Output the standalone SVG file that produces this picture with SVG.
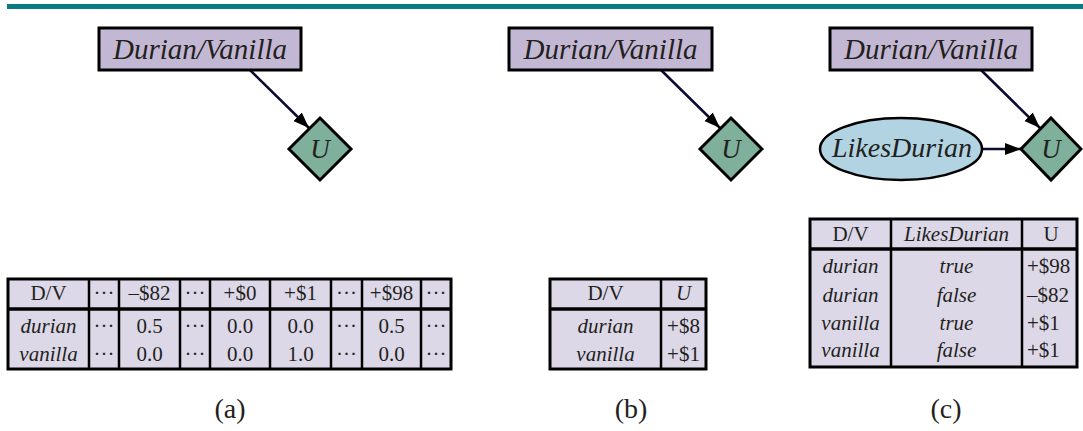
<svg xmlns="http://www.w3.org/2000/svg" width="1083" height="431" viewBox="0 0 1083 431">
<style>
text{font-family:'Liberation Serif','Tinos','Times New Roman','DejaVu Serif',serif;fill:#231f20}
.it{font-style:italic}
.nm{font-size:29px;font-style:italic;text-anchor:middle}
.u{font-size:27px;font-style:italic;text-anchor:middle}
.t{font-size:21px;text-anchor:middle}
.tl{font-size:21px}
.cap{font-size:28px;text-anchor:middle}
.box{fill:#c3b8d4;stroke:#000;stroke-width:3}
.dia{fill:#7fb09b;stroke:#000;stroke-width:3}
.ell{fill:#b2d3e2;stroke:#000;stroke-width:2.5}
.tbl{fill:#dcd8e8;stroke:#000;stroke-width:3}
.cl{stroke:#000;stroke-width:2.5}
.hs{stroke:#000;stroke-width:3.5}
.edge{stroke:#0a0a33;stroke-width:2.5;fill:none;marker-end:url(#ah)}
</style>
<defs>
<marker id="ah" markerUnits="userSpaceOnUse" markerWidth="18" markerHeight="14" refX="16" refY="7" orient="auto">
<path d="M0,1 L16,7 L0,13 Z" fill="#000"/>
</marker>
</defs>
<rect x="7" y="4" width="1076" height="5" fill="#0a7b83"/>

<g id="connectors">
<line class="edge" x1="250" y1="70" x2="309" y2="128"/>
<line class="edge" x1="661" y1="70" x2="720" y2="128"/>
<line class="edge" x1="981" y1="70" x2="1040" y2="128"/>
<line class="edge" x1="982" y1="149" x2="1021" y2="149"/>
</g>

<g font-family="Liberation Serif, DejaVu Serif, serif">
<g id="a-dv">
<rect class="box" x="99" y="28" width="202" height="42"/>
<text class="nm" x="200" y="59">Durian/Vanilla</text>
</g>
<g id="a-u">
<polygon class="dia" points="320,118 351,149 320,180 289,149"/>
<text class="u" x="320" y="158">U</text>
</g>

<g id="b-dv">
<rect class="box" x="509" y="28" width="203" height="42"/>
<text class="nm" x="610.5" y="59">Durian/Vanilla</text>
</g>
<g id="b-u">
<polygon class="dia" points="731,118 762,149 731,180 700,149"/>
<text class="u" x="731" y="158">U</text>
</g>

<g id="c-dv">
<rect class="box" x="830" y="28" width="202" height="42"/>
<text class="nm" x="931" y="59">Durian/Vanilla</text>
</g>
<g id="c-likes">
<ellipse class="ell" cx="901" cy="149" rx="81" ry="31"/>
<text class="nm" x="902" y="157" style="font-size:28px">LikesDurian</text>
</g>
<g id="c-u">
<polygon class="dia" points="1051,118 1081,149 1051,180 1021,149"/>
<text class="u" x="1051" y="158">U</text>
</g>

<g id="table-a">
<rect class="tbl" x="8" y="279" width="443" height="90"/>
<line class="hs" x1="8" y1="309" x2="451" y2="309"/>
<line class="cl" x1="89" y1="279" x2="89" y2="369"/>
<line class="cl" x1="119" y1="279" x2="119" y2="369"/>
<line class="cl" x1="180" y1="279" x2="180" y2="369"/>
<line class="cl" x1="210" y1="279" x2="210" y2="369"/>
<line class="cl" x1="270" y1="279" x2="270" y2="369"/>
<line class="cl" x1="331" y1="279" x2="331" y2="369"/>
<line class="cl" x1="362" y1="279" x2="362" y2="369"/>
<line class="cl" x1="421" y1="279" x2="421" y2="369"/>
<text class="t" x="48.5" y="300">D/V</text>
<text class="t" x="104" y="300">···</text>
<text class="t" x="149.5" y="300">–$82</text>
<text class="t" x="195" y="300">···</text>
<text class="t" x="240" y="300">+$0</text>
<text class="t" x="300.5" y="300">+$1</text>
<text class="t" x="346.5" y="300">···</text>
<text class="t" x="391.5" y="300">+$98</text>
<text class="t" x="436" y="300">···</text>
<text class="t it" x="48.5" y="333">durian</text>
<text class="t" x="104" y="333">···</text>
<text class="t" x="149.5" y="333">0.5</text>
<text class="t" x="195" y="333">···</text>
<text class="t" x="240" y="333">0.0</text>
<text class="t" x="300.5" y="333">0.0</text>
<text class="t" x="346.5" y="333">···</text>
<text class="t" x="391.5" y="333">0.5</text>
<text class="t" x="436" y="333">···</text>
<text class="t it" x="48.5" y="361">vanilla</text>
<text class="t" x="104" y="361">···</text>
<text class="t" x="149.5" y="361">0.0</text>
<text class="t" x="195" y="361">···</text>
<text class="t" x="240" y="361">0.0</text>
<text class="t" x="300.5" y="361">1.0</text>
<text class="t" x="346.5" y="361">···</text>
<text class="t" x="391.5" y="361">0.0</text>
<text class="t" x="436" y="361">···</text>
</g>

<g id="table-b">
<rect class="tbl" x="550" y="279" width="156" height="90"/>
<line class="hs" x1="550" y1="309" x2="706" y2="309"/>
<line class="cl" x1="661" y1="279" x2="661" y2="369"/>
<text class="t" x="605.5" y="300">D/V</text>
<text class="t it" x="683.5" y="300">U</text>
<text class="t it" x="605.5" y="333">durian</text>
<text class="t" x="683.5" y="333">+$8</text>
<text class="t it" x="605.5" y="361">vanilla</text>
<text class="t" x="683.5" y="361">+$1</text>
</g>

<g id="table-c">
<rect class="tbl" x="810" y="219" width="267" height="148"/>
<line class="hs" x1="810" y1="249" x2="1077" y2="249"/>
<line class="cl" x1="891" y1="219" x2="891" y2="367"/>
<line class="cl" x1="1022" y1="219" x2="1022" y2="367"/>
<text class="t" x="850.5" y="241">D/V</text>
<text class="t it" x="956.5" y="241">LikesDurian</text>
<text class="t" x="1051" y="241">U</text>
<text class="t it" x="850.5" y="273">durian</text>
<text class="t it" x="956.5" y="273">true</text>
<text class="tl" x="1027" y="273">+$98</text>
<text class="t it" x="850.5" y="302">durian</text>
<text class="t it" x="956.5" y="302">false</text>
<text class="tl" x="1027" y="302">–$82</text>
<text class="t it" x="850.5" y="330">vanilla</text>
<text class="t it" x="956.5" y="330">true</text>
<text class="tl" x="1027" y="330">+$1</text>
<text class="t it" x="850.5" y="357">vanilla</text>
<text class="t it" x="956.5" y="357">false</text>
<text class="tl" x="1027" y="357">+$1</text>
</g>

<text class="cap" x="230" y="418">(a)</text>
<text class="cap" x="631" y="418">(b)</text>
<text class="cap" x="946" y="418">(c)</text>
</g>
</svg>
